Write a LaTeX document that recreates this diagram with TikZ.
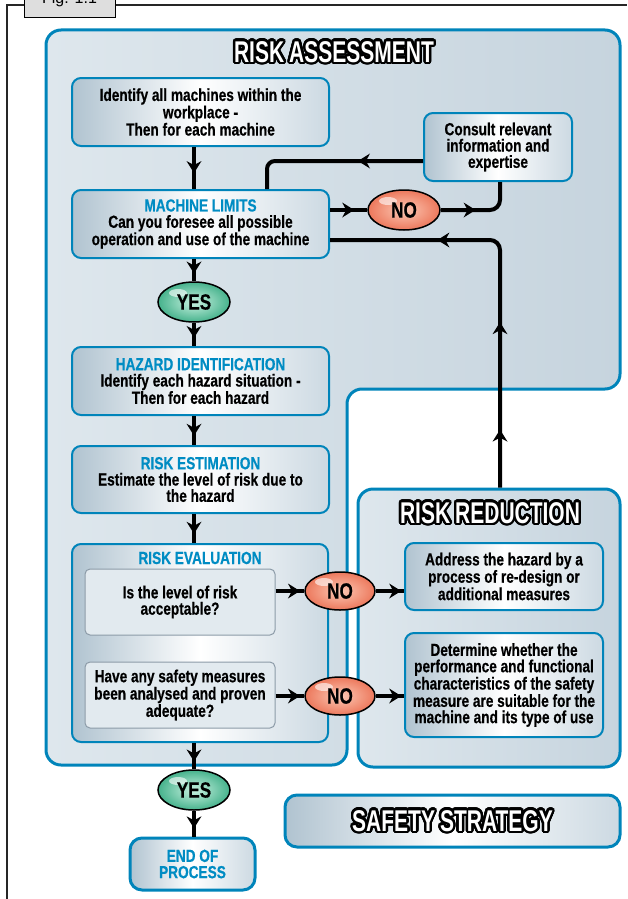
\documentclass[tikz,border=0pt]{standalone}
\usepackage{fontspec}
\setmainfont{Liberation Sans}
\newfontfamily\condf[FakeStretch=0.78,FakeBold=0.5]{Liberation Sans}
\newfontfamily\ttlf[FakeStretch=0.70]{Liberation Sans}
\usepackage[copies]{contour}
\contourlength{2.4pt}
\contournumber{24}
\usetikzlibrary{shapes.geometric,arrows.meta,decorations.markings,calc}
\definecolor{bblue}{RGB}{0,132,186}
\definecolor{hblue}{RGB}{0,140,195}
\definecolor{panelA}{RGB}{222,231,237}
\definecolor{panelB}{RGB}{198,212,222}
\definecolor{boxL}{RGB}{176,195,208}
\definecolor{boxR}{RGB}{204,217,226}
\definecolor{igray}{RGB}{140,155,168}
\definecolor{ifill}{RGB}{226,234,239}
\definecolor{noIn}{RGB}{252,200,180}
\definecolor{noOut}{RGB}{236,120,92}
\definecolor{yesIn}{RGB}{200,242,225}
\definecolor{yesOut}{RGB}{70,178,140}
\definecolor{tabgray}{RGB}{222,222,222}
\tikzset{
  bodyfont/.style={font=\condf\bfseries\fontsize{17.5}{16.3}\selectfont},
  box/.style={draw=bblue, line width=2pt, rounded corners=9pt, left color=boxL, right color=boxR, middle color=white, align=center, bodyfont, inner sep=0pt},
  ibox/.style={draw=igray, line width=1pt, rounded corners=5pt, fill=ifill, align=center, bodyfont, inner sep=0pt},
  head/.style={text=hblue, bodyfont},
  ttl/.style={text=white, font=\ttlf\bfseries\fontsize{30}{30}\selectfont, inner sep=0pt},
  oval/.style={ellipse, draw=black, line width=1.5pt, minimum width=72pt, minimum height=40pt, inner sep=0pt, font=\condf\bfseries\fontsize{22}{22}\selectfont,
    path picture={\fill[white,opacity=.6] ([shift={(-16,-9)}]path picture bounding box.center) ellipse [x radius=9pt, y radius=4pt];}},
  nooval/.style={oval, inner color=noIn, outer color=noOut},
  yesoval/.style={oval, inner color=yesIn, outer color=yesOut},
  flow/.style={line width=4pt, draw=black},
  marr/.style={postaction={decorate}, decoration={markings, mark=at position #1 with {\arrow{Stealth[length=12pt,width=15pt,inset=4pt,line width=0pt]}}}},
}
\begin{document}
\begin{tikzpicture}[x=1pt,y=-1pt]
\useasboundingbox (0,0) rectangle (627,899);
\clip (0,0) rectangle (627,899);
% frame and tab
\draw[line width=1.2pt, black!85] (7,899) -- (7,5) -- (24,5);
\draw[line width=1.2pt, black!85] (115,5) -- (627,5);
\node[draw, fill=tabgray, line width=1pt, minimum width=91pt, minimum height=30pt, anchor=south west, inner sep=0pt] (tab) at (24,18) {};
\node[anchor=base, font=\fontsize{16}{16}\selectfont] (figt) at (69.5,4) {Fig. 1.1};
% risk assessment panel
\shadedraw[left color=panelA, right color=panelB, draw=bblue, line width=3pt, rounded corners=15pt]
  (46,765) -- (46,30) -- (620,30) -- (620,389) -- (347,389) -- (347,765) -- cycle;
\node[ttl] (rat) at (334,53) {\contour{black}{RISK\hspace{5pt}ASSESSMENT}};
% risk reduction panel
\node[draw=bblue, line width=3pt, rounded corners=15pt, left color=panelA, right color=panelB, minimum width=262pt, minimum height=278pt, inner sep=0pt] (rr) at (489,628) {};
\node[ttl] (rrt) at (490,514) {\contour{black}{RISK\hspace{5pt}REDUCTION}};
% boxes
\node[box, minimum width=257pt, minimum height=68pt] (b1) at (200.5,112) {Identify all machines within the\\workplace -\\Then for each machine};
\node[box, minimum width=257pt, minimum height=68pt] (ml) at (200.5,224) {{\color{hblue}MACHINE LIMITS}\\Can you foresee all possible\\operation and use of the machine};
\node[box, minimum width=148pt, minimum height=68pt] (cs) at (498,147) {Consult relevant\\information and\\expertise};
\node[box, minimum width=257pt, minimum height=68pt] (hz) at (200.5,381) {{\color{hblue}HAZARD IDENTIFICATION}\\Identify each hazard situation -\\Then for each hazard};
\node[box, minimum width=257pt, minimum height=67pt] (es) at (200.5,479.5) {{\color{hblue}RISK ESTIMATION}\\Estimate the level of risk due to\\the hazard};
\node[box, minimum width=256pt, minimum height=198pt] (ev) at (200,643) {};
\node[head] (evt) at (200,558) {RISK EVALUATION};
\node[ibox, minimum width=190pt, minimum height=66pt] (in1) at (180,602) {Is the level of risk\\acceptable?};
\node[ibox, minimum width=190pt, minimum height=66pt] (in2) at (180,695) {Have any safety measures\\been analysed and proven\\adequate?};
\node[box, minimum width=198pt, minimum height=67pt] (ad) at (504,576.5) {Address the hazard by a\\process of re-design or\\additional measures};
\node[box, minimum width=198pt, minimum height=104pt] (dt) at (504,685) {Determine whether the\\performance and functional\\characteristics of the safety\\measure are suitable for the\\machine and its type of use};
\node[box, line width=3pt, rounded corners=12pt, minimum width=125pt, minimum height=52pt, text=hblue] (end) at (192.5,864) {END OF\\PROCESS};
\node[box, line width=3pt, rounded corners=12pt, minimum width=335pt, minimum height=52pt] (ss) at (452.5,821) {};
\node[ttl] (sst) at (452.5,822) {\contour{black}{SAFETY\hspace{5pt}STRATEGY}};
% ovals
\node[yesoval] (y1) at (194,302) {YES};
\node[yesoval] (y2) at (194,790) {YES};
\node[nooval] (n1) at (404,210) {NO};
\node[nooval, minimum width=70pt, minimum height=38pt] (n2) at (340,591) {NO};
\node[nooval, minimum width=70pt, minimum height=38pt] (n3) at (340,696) {NO};
% bends
\coordinate (k1) at (267,161);
\coordinate (k2) at (500,240);
% connectors
\draw[flow, marr=.62] (b1.south -| y1) -- (ml.north -| y1);
\draw[flow, marr=.36, rounded corners=8pt] (k1 -| cs.west) -- (k1) -- (k1 |- ml.north);
\draw[flow, marr=.65] (ml.east |- n1) -- (n1.west);
\draw[flow, marr=.42, rounded corners=10pt] (n1.east) -- (n1.east -| k2) -- (k2 |- cs.south);
\draw[flow, rounded corners=10pt, postaction={decorate}, decoration={markings,
   mark=at position 0.14 with {\arrow{Stealth[length=12pt,width=15pt,inset=4pt,line width=0pt]}},
   mark=at position 0.40 with {\arrow{Stealth[length=12pt,width=15pt,inset=4pt,line width=0pt]}},
   mark=at position 0.74 with {\arrow{Stealth[length=12pt,width=15pt,inset=4pt,line width=0pt]}}}]
   (k2 |- rr.north) -- (k2) -- (k2 -| ml.east);
\draw[flow, marr=.65] (ml.south -| y1) -- (y1.north);
\draw[flow, marr=.65] (y1.south) -- (hz.north -| y1);
\draw[flow, marr=.68] (hz.south -| y1) -- (es.north -| y1);
\draw[flow, marr=.68] (es.south -| y1) -- (ev.north -| y1);
\draw[flow, marr=.7] (ev.south -| y2) -- (y2.north);
\draw[flow, marr=.68] (y2.south) -- (end.north -| y2);
\draw[flow, marr=.85] (in1.east |- n2) -- (n2.west);
\draw[flow, marr=.9] (n2.east) -- (ad.west |- n2);
\draw[flow, marr=.85] (in2.east |- n3) -- (n3.west);
\draw[flow, marr=.9] (n3.east) -- (dt.west |- n3);
\end{tikzpicture}
\end{document}
